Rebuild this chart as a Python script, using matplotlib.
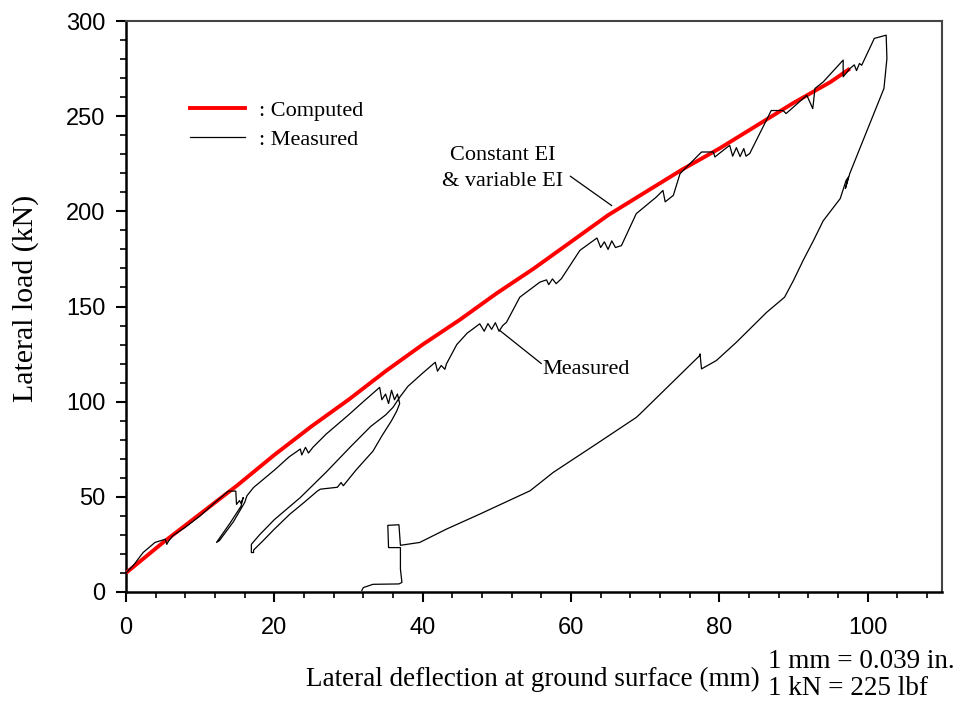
import matplotlib
matplotlib.use("Agg")
import matplotlib.pyplot as plt
from matplotlib.ticker import MultipleLocator
from matplotlib.lines import Line2D

# ---- data ----
computed_x = [0, 5, 10, 15, 20, 25, 30, 35, 40, 45, 50, 55, 60, 65, 70, 75, 80, 85, 90, 95, 97.6]
computed_y = [10, 26, 41, 56, 72, 87, 101, 116, 130, 143, 157, 170, 184, 198, 210, 222, 233, 245, 257, 268, 275]

measured_x = [0, 1, 2.3, 3.9, 5.3, 5.5, 5.7, 6.3, 8, 10, 12, 13.8, 14.8, 14.9, 15.3, 15.5, 15.8,
              15.5, 14.0, 12.2, 12.6, 14.5, 16.0, 16.3, 17.2, 20, 22, 23.5, 23.7, 24.2, 24.6, 25.2,
              27, 30, 32, 34.2, 34.5, 35.0, 35.4, 35.8, 36.2, 36.6, 36.9,
              36.5, 35.8, 34.5, 33.3, 31, 29.3, 29.0, 28.5, 26.2, 25.8, 24, 22.1, 20, 18.5, 17.2, 17.2,
              16.9, 16.9, 18, 20, 23.5, 27, 30.2, 33, 35, 36.0, 36.9,
              38, 40, 41.7, 42, 42.5, 43, 43.2, 44.6, 46, 47.7, 48.3, 48.8, 49.3, 49.8, 50.3, 50.8, 51.3,
              53.1, 55.8, 56.7, 57, 57.5, 58, 58.7, 61.2, 63.5, 64, 64.5, 65, 65.5, 66, 66.8,
              68.8, 71.5, 72.4, 72.7, 73.8, 74.7, 77.6, 79.2, 79.4, 80.5, 81.4, 81.8, 82.3, 82.8, 83.3,
              83.6, 84.1, 87.0, 88.6, 89, 91.8, 92.6, 92.9, 94, 96.7, 96.7, 97.6, 98.2, 98.5, 98.9, 99.2,
              100.9, 102.5, 102.6, 102.2, 97.6, 97.0, 97.4, 97.1,
              96.3, 94, 92.7, 91.3, 90, 88.8, 86.4, 82.3, 79.6, 77.6, 77.4, 77.3, 69.3, 68.8, 63.4,
              57.6, 54.5, 47.7, 43.2, 39.6, 37.0,
              36.8, 35.3, 35.4, 37.0, 37.0, 37.2, 36.8, 33.3, 32.0, 31.8]
measured_y = [10, 14, 20.7, 26, 27.7, 25, 26.5, 29.5, 34, 40, 47, 53, 53, 46, 48, 46.5, 49.6,
              45, 36, 26, 27, 37, 47, 50.5, 54.9, 64, 71, 75.1, 72, 76, 73, 76,
              83, 93, 100, 107.5, 101, 104, 99, 106, 101, 104, 99,
              95, 90, 82, 74, 64, 55.8, 57.5, 55, 54, 53, 47, 40.9, 33, 27, 22, 20.7,
              20.7, 25, 30, 38, 49.6, 63, 76, 87, 93, 97, 102.3,
              108, 115, 120.7, 116, 119, 117, 119.8, 130, 136, 140.9, 137, 141, 138, 141.5, 137, 140, 141.7,
              154.9, 162.8, 164, 161.5, 164.5, 162, 164.6, 179.5, 186, 181, 184, 180, 184.5, 181, 182,
              198.8, 207.5, 211, 205, 208.4, 219.8, 231.2, 231.2, 228.6, 232, 234.7, 229, 233.5, 228.8, 233,
              229, 230.4, 253, 253, 251.4, 261, 254, 264.6, 268, 279.5, 270.7, 275, 277, 274, 277.7, 276.8,
              290.9, 292.6, 280.3, 264.6, 220, 212, 218, 216.3,
              206.7, 195, 184.7, 174.2, 163.7, 154.9, 147, 131.2, 121.6, 117.2, 125.1, 124, 93.5, 91.7, 77.7,
              62.8, 53.2, 40.9, 33, 26, 24.5,
              35.3, 35.0, 23.3, 23.3, 12, 5, 4.2, 4, 2.3, 0.8]

x_ticks = [0, 20, 40, 60, 80, 100]
y_ticks = [0, 50, 100, 150, 200, 250, 300]

SERIF = ["Liberation Serif", "DejaVu Serif"]
SANS = ["Liberation Sans", "DejaVu Sans"]

fig = plt.figure(figsize=(9.62, 7.03), dpi=100)
ax = fig.add_axes([0.131, 0.158, 0.848, 0.812])

ax.plot(computed_x, computed_y, color="#ff0000", lw=2.8, solid_capstyle="butt", zorder=3)
ax.plot(measured_x, measured_y, color="black", lw=0.9, zorder=4)

ax.set_xlim(0, 110)
ax.set_ylim(0, 300)
ax.set_xticks(x_ticks)
ax.set_yticks(y_ticks)
ax.xaxis.set_minor_locator(MultipleLocator(4))
ax.yaxis.set_minor_locator(MultipleLocator(10))
ax.tick_params(which="major", direction="out", length=7, width=1.5)
ax.tick_params(which="minor", direction="out", length=4, width=1.2)
ax.tick_params(axis="x", which="major", pad=11)
ax.tick_params(axis="y", which="major", pad=8)
ax.tick_params(top=False, right=False, which="both")
for lab in ax.get_xticklabels() + ax.get_yticklabels():
    lab.set_family(SANS)
    lab.set_fontsize(17)

for s in ["left", "bottom"]:
    ax.spines[s].set_linewidth(1.8)
    ax.spines[s].set_color("black")
for s in ["top", "right"]:
    ax.spines[s].set_linewidth(1.5)
    ax.spines[s].set_color("#444444")

ax.set_xlabel("Lateral deflection at ground surface (mm)", family=SERIF, fontsize=19.5)
ax.xaxis.set_label_coords(0.499, -0.131)
ax.set_ylabel("Lateral load (kN)", family=SERIF, fontsize=21.5)
ax.yaxis.set_label_coords(-0.107, 0.515)

handles = [Line2D([], [], color="#ff0000", lw=2.8), Line2D([], [], color="black", lw=0.9)]
leg = ax.legend(handles, [": Computed", ": Measured"], loc="upper left",
                bbox_to_anchor=(0.078, 0.861), frameon=False, handlelength=2.5,
                handletextpad=0.6, labelspacing=0.36, borderpad=0, borderaxespad=0,
                prop={"family": SERIF, "size": 16})

ax.text(59.0, 222.5, "Constant EI\n& variable EI", ha="right", va="center",
        multialignment="center", family=SERIF, fontsize=16, linespacing=1.55)
ax.annotate("", xy=(65.5, 203), xytext=(59.9, 218.5),
            arrowprops=dict(arrowstyle="-", color="black", lw=0.9, shrinkA=0, shrinkB=0))
ax.text(56.2, 117.0, "Measured", ha="left", va="center", family=SERIF, fontsize=16)
ax.annotate("", xy=(50.4, 137.4), xytext=(56.0, 120.0),
            arrowprops=dict(arrowstyle="-", color="black", lw=0.9, shrinkA=0, shrinkB=0))

fig.text(0.798, 0.059, "1 mm = 0.039 in.", family=SERIF, fontsize=19.5, ha="left", va="center")
fig.text(0.798, 0.020, "1 kN = 225 lbf", family=SERIF, fontsize=19.5, ha="left", va="center")

fig.savefig("out.png", dpi=100)
